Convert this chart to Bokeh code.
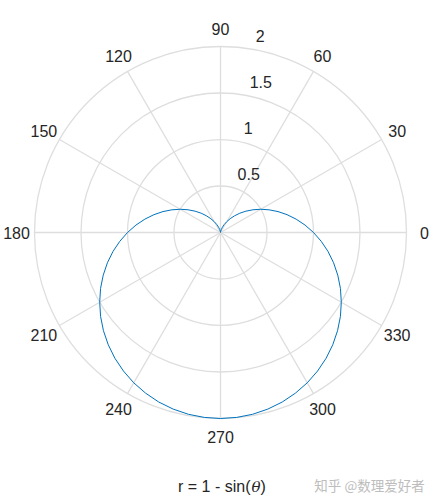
import numpy as np
from bokeh.plotting import figure
from bokeh.models import ColumnDataSource, Range1d
from bokeh.core.properties import value
from bokeh.embed import file_html
from bokeh.resources import INLINE

# ---- data ----
theta_deg = [0, 5, 10, 15, 20, 25, 30, 35, 40, 45, 50, 55, 60, 65, 70, 75, 80, 85,
             90, 95, 100, 105, 110, 115, 120, 125, 130, 135, 140, 145, 150, 155, 160, 165, 170, 175,
             180, 185, 190, 195, 200, 205, 210, 215, 220, 225, 230, 235, 240, 245, 250, 255, 260, 265,
             270, 275, 280, 285, 290, 295, 300, 305, 310, 315, 320, 325, 330, 335, 340, 345, 350, 355, 360]
r_vals = [1.000, 0.913, 0.826, 0.741, 0.658, 0.577, 0.500, 0.426, 0.357, 0.293, 0.234, 0.181, 0.134, 0.094, 0.060, 0.034, 0.015, 0.004,
          0.000, 0.004, 0.015, 0.034, 0.060, 0.094, 0.134, 0.181, 0.234, 0.293, 0.357, 0.426, 0.500, 0.577, 0.658, 0.741, 0.826, 0.913,
          1.000, 1.087, 1.174, 1.259, 1.342, 1.423, 1.500, 1.574, 1.643, 1.707, 1.766, 1.819, 1.866, 1.906, 1.940, 1.966, 1.985, 1.996,
          2.000, 1.996, 1.985, 1.966, 1.940, 1.906, 1.866, 1.819, 1.766, 1.707, 1.643, 1.574, 1.500, 1.423, 1.342, 1.259, 1.174, 1.087, 1.000]

theta_ticks = [0, 30, 60, 90, 120, 150, 180, 210, 240, 270, 300, 330]
theta_tick_labels = ["0", "30", "60", "90", "120", "150", "180", "210", "240", "270", "300", "330"]
r_ticks = [0.5, 1.0, 1.5, 2.0]
r_tick_labels = ["0.5", "1", "1.5", "2"]
title_main = "r = 1 - sin("
title_sym = "\u03b8"
title_close = ")"
watermark = "知乎 @数理爱好者"

# ---- layout ----
W, H = 436, 502
PX = 93.0          # pixels per data unit
CX, CY = 220, 232  # centre in canvas pixels
GRID = "#dedede"
TXT = "#262626"
FONT = value("Liberation Sans")

p = figure(width=W, height=H,
           x_range=Range1d(-CX / PX, (W - CX) / PX),
           y_range=Range1d(-(H - CY) / PX, CY / PX),
           output_backend="svg", toolbar_location=None, min_border=0,
           outline_line_color=None, background_fill_color="white",
           border_fill_color="white")
p.xaxis.visible = False
p.yaxis.visible = False
p.xgrid.visible = False
p.ygrid.visible = False

R_MAX = max(r_ticks)

# rings
p.circle(x=[0.0] * len(r_ticks), y=[0.0] * len(r_ticks), radius=r_ticks,
         fill_color=None, line_color=GRID, line_width=1.3)

# spokes
tt = np.deg2rad(theta_ticks)
p.segment(x0=[0.0] * len(tt), y0=[0.0] * len(tt),
          x1=R_MAX * np.cos(tt), y1=R_MAX * np.sin(tt),
          line_color=GRID, line_width=1.3)

# curve
th = np.deg2rad(theta_deg)
rr = np.array(r_vals)
p.line(x=rr * np.cos(th), y=rr * np.sin(th), line_color="#0072BD", line_width=1.0)

# theta tick labels
lr = R_MAX + 18 / PX
src_t = ColumnDataSource(dict(x=lr * np.cos(tt), y=lr * np.sin(tt), t=theta_tick_labels))
p.text(x="x", y="y", text="t", source=src_t, text_align="center", text_baseline="middle",
       text_font=FONT, text_font_size="16px", text_color=TXT)

# r tick labels
ra = np.deg2rad(82.5)
rt = np.array(r_ticks)
src_r = ColumnDataSource(dict(x=rt * np.cos(ra) + 11 / PX, y=rt * np.sin(ra) + 12 / PX, t=r_tick_labels))
p.text(x="x", y="y", text="t", source=src_r, text_align="left", text_baseline="middle",
       text_font=FONT, text_font_size="16px", text_color=TXT)

# title (below)
ty = (CY - 486) / PX
tx = (250 - CX) / PX
p.text(x=[tx], y=[ty], text=[title_main], text_align="right", text_baseline="middle",
       text_font=FONT, text_font_size="16px", text_color=TXT)
p.text(x=[tx + 1 / PX], y=[ty], text=[title_sym], text_align="left", text_baseline="middle",
       text_font=value("DejaVu Serif"), text_font_style="italic", text_font_size="15px", text_color=TXT)
p.text(x=[tx + 10 / PX], y=[ty], text=[title_close], text_align="left", text_baseline="middle",
       text_font=FONT, text_font_size="16px", text_color=TXT)

# watermark
p.text(x=[(369 - CX) / PX], y=[(CY - 484) / PX], text=[watermark], text_align="center",
       text_baseline="middle", text_font=value("Noto Sans CJK SC"), text_font_size="13.5px",
       text_color="#bdbdbd")

open("out.html", "w").write(file_html(p, INLINE))
